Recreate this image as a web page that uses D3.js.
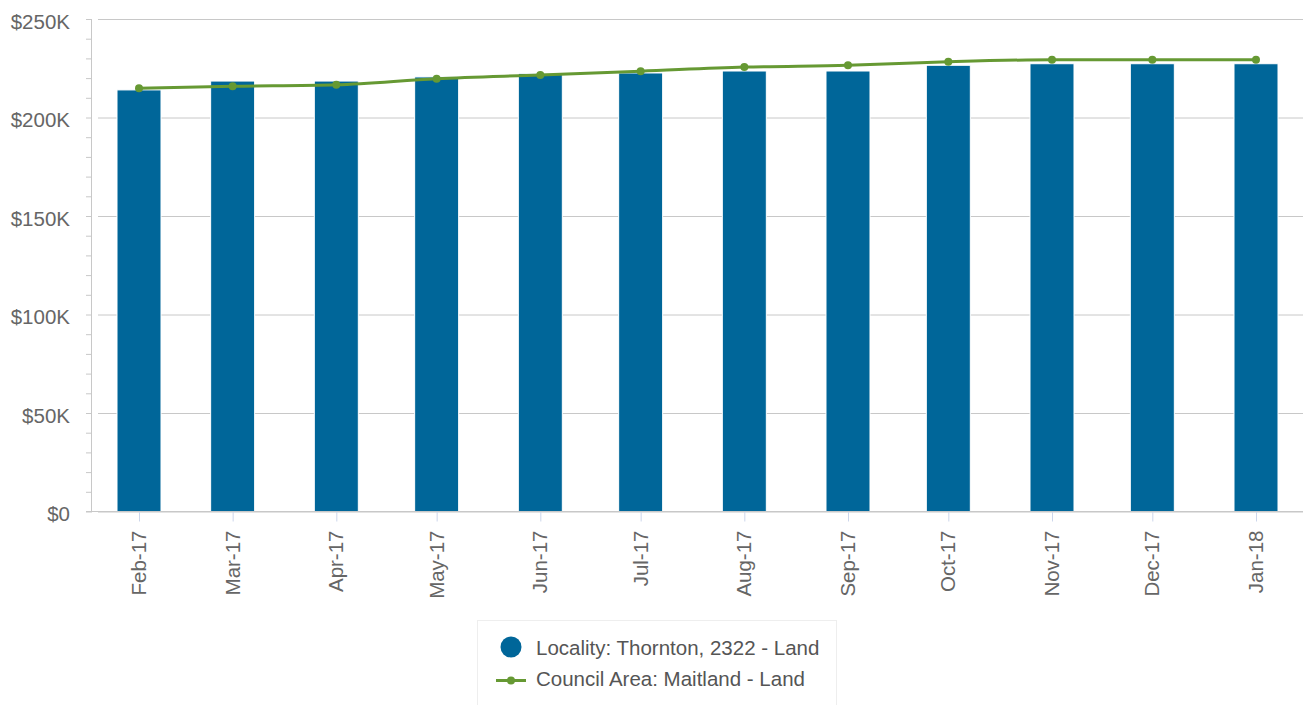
<!DOCTYPE html>
<html>
<head>
<meta charset="utf-8">
<script src="https://cdn.jsdelivr.net/npm/d3@7"></script>
<style>
  body { margin: 0; background: #fff; }
  svg { display: block; font-family: "Liberation Sans", Arial, sans-serif; }
</style>
</head>
<body>
<script>
const months = ["2017-02", "2017-03", "2017-04", "2017-05", "2017-06", "2017-07",
  "2017-08", "2017-09", "2017-10", "2017-11", "2017-12", "2018-01"];
const locality = [214000, 218500, 218500, 220600, 222400, 222600,
  223600, 223600, 226500, 227300, 227300, 227300];
const council = [214800, 215800, 216600, 219700, 221600, 223500,
  225600, 226500, 228300, 229300, 229300, 229300];
const yTicks = [0, 50000, 100000, 150000, 200000, 250000];
const seriesNames = ["Locality: Thornton, 2322 - Land", "Council Area: Maitland - Land"];

const w = 1303;
const h = 705;
const barColor = "#006699";
const lineColor = "#669933";
const textColor = "#666666";
const gridColor = "#c8c8c8";

const parse = d3.timeParse("%Y-%m");
const dates = months.map(parse);

const svg = d3.select("body").append("svg").attr("width", w).attr("height", h);

const x = d3.scaleTime()
  .domain([dates[0], dates[dates.length - 1]])
  .range([139, 1256]);

const y = d3.scaleLinear()
  .domain([0, 250000])
  .range([511.5, 19]);

// minor ticks every 10K
svg.append("g")
  .attr("transform", "translate(92,0)")
  .call(d3.axisLeft(y).ticks(25).tickSize(6).tickFormat(""))
  .call(g => g.select(".domain").remove())
  .call(g => g.selectAll("line").attr("stroke", gridColor));

// gridlines + labels
svg.append("g")
  .attr("transform", "translate(92,0)")
  .call(d3.axisLeft(y).tickValues(yTicks).tickSize(-(w - 92)).tickPadding(22)
    .tickFormat(d => "$" + (d === 0 ? "0" : d / 1000 + "K")))
  .call(g => g.select(".domain").remove())
  .call(g => g.selectAll("line").attr("stroke", gridColor).attr("x1", 6))
  .call(g => g.selectAll("text")
    .attr("fill", textColor)
    .attr("font-size", 20.5)
    .attr("dy", "0.46em"));

// vertical y axis line
svg.append("line")
  .attr("x1", 91.5).attr("x2", 91.5)
  .attr("y1", y(250000)).attr("y2", y(0))
  .attr("stroke", gridColor);

// bars
const barW = 44;
svg.append("g")
  .selectAll("rect")
  .data(locality)
  .enter()
  .append("rect")
  .attr("x", (d, i) => x(dates[i]) - barW / 2)
  .attr("y", d => y(d))
  .attr("width", barW)
  .attr("height", d => y(0) - y(d))
  .attr("fill", barColor)
  .attr("stroke", "#ffffff")
  .attr("stroke-width", 1);

// x axis
const xAxis = svg.append("g")
  .attr("transform", `translate(0,${y(0)})`)
  .call(d3.axisBottom(x).tickValues(dates).tickSize(10).tickFormat(""));
xAxis.select(".domain").remove();
xAxis.selectAll("line").attr("stroke", "#ccd6eb");

svg.append("line")
  .attr("x1", 86).attr("x2", w)
  .attr("y1", y(0)).attr("y2", y(0))
  .attr("stroke", gridColor);

const fmt = d3.timeFormat("%b-%y");
svg.append("g")
  .selectAll("text")
  .data(dates)
  .enter()
  .append("text")
  .attr("transform", d => `translate(${x(d) + 7},${y(0) + 19}) rotate(-90)`)
  .attr("text-anchor", "end")
  .attr("fill", textColor)
  .attr("font-size", 20.5)
  .text(d => fmt(d));

// line
const line = d3.line()
  .x((d, i) => x(dates[i]))
  .y(d => y(d))
  .curve(d3.curveMonotoneX);

svg.append("path")
  .datum(council)
  .attr("d", line)
  .attr("fill", "none")
  .attr("stroke", lineColor)
  .attr("stroke-width", 3);

svg.append("g")
  .selectAll("circle")
  .data(council)
  .enter()
  .append("circle")
  .attr("cx", (d, i) => x(dates[i]))
  .attr("cy", d => y(d))
  .attr("r", 4)
  .attr("fill", lineColor);

// legend
const lg = svg.append("g");
lg.append("rect")
  .attr("x", 477.5).attr("y", 620.5)
  .attr("width", 359).attr("height", 100)
  .attr("fill", "#ffffff")
  .attr("stroke", "#eeeeee");
lg.append("circle")
  .attr("cx", 511).attr("cy", 647).attr("r", 10.5)
  .attr("fill", barColor);
lg.append("line")
  .attr("x1", 496).attr("x2", 526)
  .attr("y1", 680.5).attr("y2", 680.5)
  .attr("stroke", lineColor).attr("stroke-width", 3);
lg.append("circle")
  .attr("cx", 511).attr("cy", 680.5).attr("r", 4)
  .attr("fill", lineColor);
lg.selectAll("text")
  .data(seriesNames)
  .enter()
  .append("text")
  .attr("x", 536)
  .attr("y", (d, i) => 655 + i * 31)
  .attr("fill", "#555555")
  .attr("font-size", 20.5)
  .text(d => d);
</script>
</body>
</html>
